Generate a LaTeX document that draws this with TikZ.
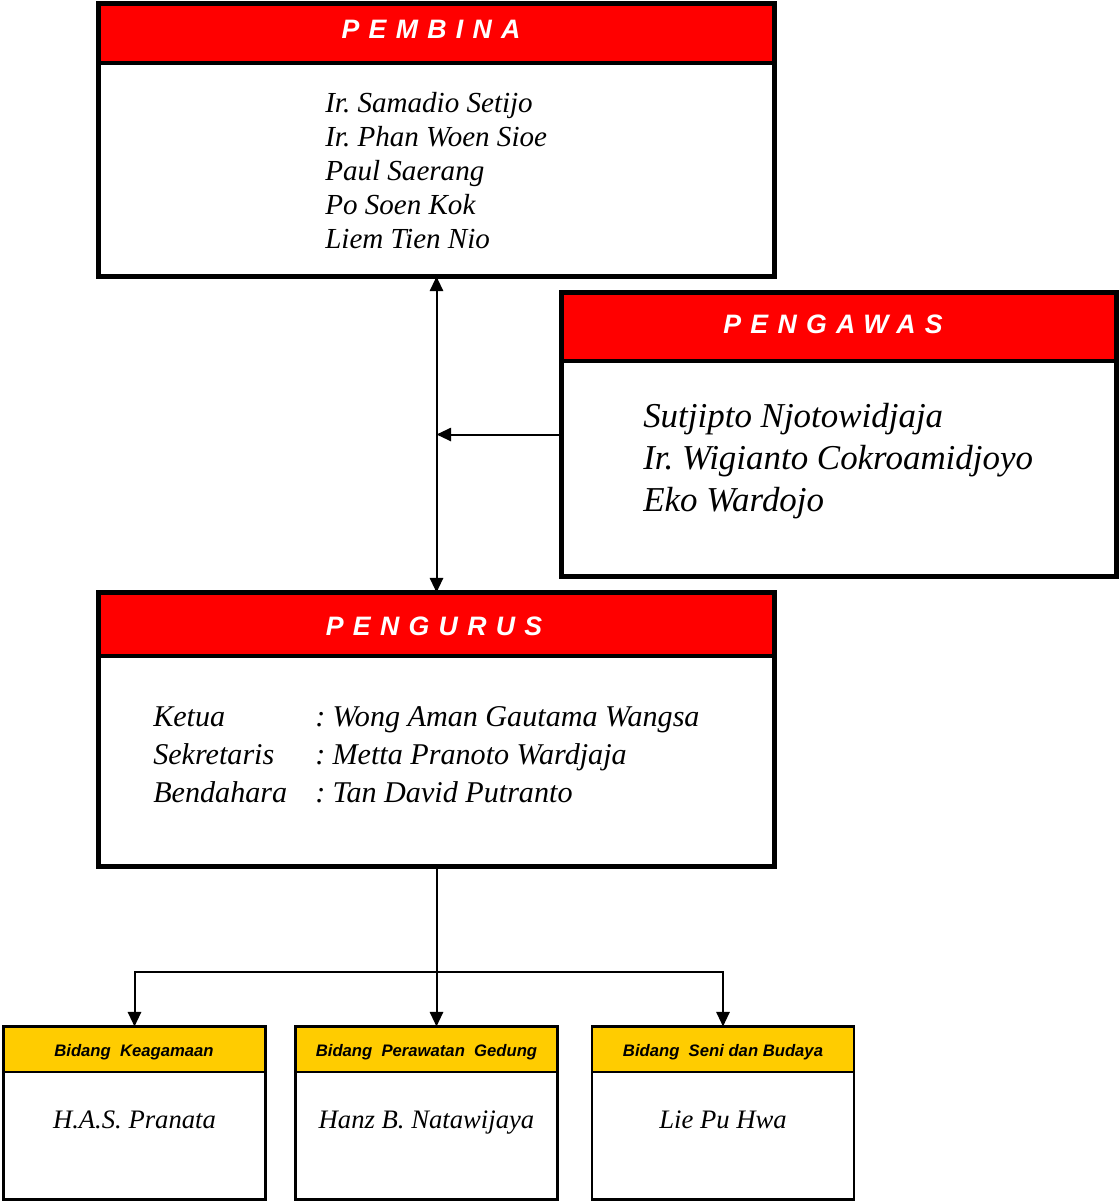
\documentclass[tikz,border=0pt]{standalone}
\usepackage{fontspec}
\usetikzlibrary{arrows.meta}
\newfontfamily\hdrfont{Liberation Sans}
\newfontfamily\namefont{Liberation Serif}
\definecolor{hred}{HTML}{FF0000}
\definecolor{hyel}{HTML}{FFCC00}
\begin{document}
\frenchspacing
\begin{tikzpicture}[x=0.75pt,y=-0.75pt,
  box/.style={draw=black, line width=3.1pt, fill=white, inner sep=0pt, outer sep=0pt},
  smallbox/.style={box, line width=2.2pt},
  redhead/.style={box, fill=hred, anchor=north},
  yelhead/.style={smallbox, fill=hyel, anchor=north},
  titletext/.style={inner sep=0pt, text=white, text depth=0pt,
    font=\hdrfont\bfseries\itshape\fontsize{20}{20}\selectfont\addfontfeature{LetterSpace=35}},
  bidtext/.style={inner sep=0pt, text depth=0pt,
    font=\hdrfont\bfseries\itshape\fontsize{12.5}{12.5}\selectfont},
  names/.style={inner sep=0pt, anchor=west, align=left},
  bname/.style={inner sep=0pt, text depth=0pt, font=\namefont\itshape\fontsize{20}{24}\selectfont},
  arr/.style={line width=1.5pt, -{Triangle[length=11pt,width=10pt]}},
  darr/.style={line width=1.5pt, {Triangle[length=11pt,width=10pt]}-{Triangle[length=11pt,width=10pt]}}]
\useasboundingbox (0,0) rectangle (1120,1203);

% PEMBINA
\node[box, minimum width=507pt, minimum height=204.75pt] (pembina) at (436.5,140) {};
\node[redhead, minimum width=507pt, minimum height=44.6pt] (pembinah) at (pembina.north) {};
\node[titletext] (pembinat) at (431,29) {PEMBINA};
\node[names, font=\namefont\itshape\fontsize{21.8}{25.5}\selectfont] (pembinan) at (325,171)
  {Ir. Samadio Setijo\\Ir. Phan Woen Sioe\\Paul Saerang\\Po Soen Kok\\Liem Tien Nio};

% PENGAWAS
\node[box, minimum width=416.25pt, minimum height=213pt] (pengawas) at (839,434.5) {};
\node[redhead, minimum width=416.25pt, minimum height=51.4pt] (pengawash) at (pengawas.north) {};
\node[titletext] (pengawast) at (833,324) {PENGAWAS};
\node[names, font=\namefont\itshape\fontsize{26.2}{31.5}\selectfont] (pengawasn) at (643,461)
  {Sutjipto Njotowidjaja\\Ir. Wigianto Cokroamidjoyo\\Eko Wardojo};

% PENGURUS
\node[box, minimum width=507pt, minimum height=205.5pt] (pengurus) at (436.5,729.5) {};
\node[redhead, minimum width=507pt, minimum height=47.6pt] (pengurush) at (pengurus.north) {};
\node[titletext] (pengurust) at (434,626) {PENGURUS};
\node[names, font=\namefont\itshape\fontsize{22.6}{28.5}\selectfont] (pengurusn) at (153,757)
  {\begin{tabular}{@{}p{121.5pt}@{}p{13pt}@{}l@{}}
   Ketua & : & Wong Aman Gautama Wangsa\\
   Sekretaris & : & Metta Pranoto Wardjaja\\
   Bendahara & : & Tan David Putranto
   \end{tabular}};

% Bidang boxes
\node[smallbox, minimum width=196.5pt, minimum height=129.75pt] (b1) at (134.5,1113) {};
\node[yelhead, minimum width=196.5pt, minimum height=34.1pt] (b1h) at (b1.north) {};
\node[bidtext] (b1t) at (134,1050) {Bidang\ \ Keagamaan};
\node[bname] (b1n) at (134.5,1120) {H.A.S. Pranata};

\node[smallbox, minimum width=196.5pt, minimum height=129.75pt] (b2) at (426.5,1113) {};
\node[yelhead, minimum width=196.5pt, minimum height=34.1pt] (b2h) at (b2.north) {};
\node[bidtext] (b2t) at (426.5,1050) {Bidang\ \ Perawatan\ \ Gedung};
\node[bname] (b2n) at (426.5,1120) {Hanz B. Natawijaya};

\node[smallbox, minimum width=196.5pt, minimum height=129.75pt] (b3) at (723,1113) {};
\node[yelhead, minimum width=196.5pt, minimum height=34.1pt] (b3h) at (b3.north) {};
\node[bidtext] (b3t) at (723,1050) {Bidang\ \ Seni dan Budaya};
\node[bname] (b3n) at (723,1120) {Lie Pu Hwa};

% connectors
\draw[darr] (pembina.south) -- (pengurush.north);
\draw[arr] (pengawas.west) -- (pengawas.west -| pembina.south);
\path (pengurus.south) ++(0,105.5) coordinate (split);
\draw[arr] (pengurus.south) -- (pengurus.south |- b2h.north);
\draw[arr] (split) -| (b1h.north);
\draw[arr] (split) -| (b3h.north);
\end{tikzpicture}
\end{document}
